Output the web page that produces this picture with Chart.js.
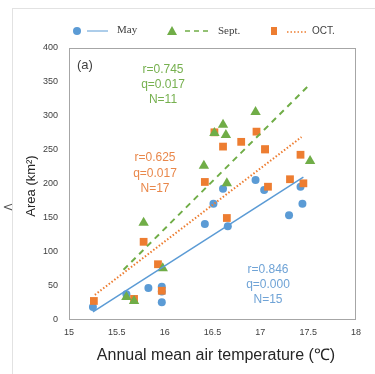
<!DOCTYPE html>
<html lang="en">
<head>
    <meta charset="UTF-8">
    <title>Area vs annual mean air temperature</title>
    <script src="https://cdn.jsdelivr.net/npm/chart.js@4.4.1/dist/chart.umd.min.js"></script>
    <style>
        body { margin: 0; background: #ffffff; }
        .wrap {
            position: relative;
            width: 375px;
            height: 374px;
        }
        .frame {
            position: absolute;
            left: 12px;
            top: 8px;
            right: 0;
            bottom: 0;
            border-left: 1px solid #e2e2e2;
            border-top: 1px solid #e2e2e2;
        }
        canvas { position: absolute; left: 0; top: 0; }
    </style>
</head>
<body>
<div class="wrap">
    <div class="frame"></div>
    <canvas id="chart" width="375" height="374"></canvas>
</div>
<script>
// tick values
const xTicks = [15, 15.5, 16, 16.5, 17, 17.5, 18];
const yTicks = [0, 50, 100, 150, 200, 250, 300, 350, 400];

// May (blue circles)
const mayTemp = [15.25, 15.60, 15.83, 15.97, 15.97, 15.97, 16.42, 16.66, 16.51, 16.61, 16.95, 17.04, 17.42, 17.44, 17.30];
const mayArea = [19, 38, 47, 49, 26, 42, 141, 138, 171, 193, 206, 191, 196, 171, 154];

// Sept. (green triangles)
const septTemp = [15.60, 15.68, 15.78, 15.98, 16.41, 16.52, 16.61, 16.64, 16.65, 16.95, 17.52];
const septArea = [34, 28, 143, 76, 227, 275, 287, 272, 201, 306, 234];

// OCT. (orange squares)
const octTemp = [15.26, 15.68, 15.78, 15.93, 15.97, 16.42, 16.52, 16.61, 16.80, 16.96, 17.05, 16.65, 17.08, 17.42, 17.31, 17.45, 17.05];
const octArea = [28, 31, 115, 82, 43, 203, 276, 255, 262, 277, 251, 150, 196, 243, 207, 201, 251];

// fitted trend lines (end points)
const mayFitTemp = [15.25, 17.45];
const mayFitArea = [12, 210];
const septFitTemp = [15.57, 17.50];
const septFitArea = [74, 344];
const octFitTemp = [15.27, 17.43];
const octFitArea = [37, 269];

const BLUE = '#5b9bd5';
const GREEN = '#70ad47';
const ORANGE = '#ed7d31';

function pts(xs, ys) {
    return xs.map((x, i) => ({ x: x, y: ys[i] }));
}

const extras = {
    id: 'extras',
    afterDraw(chart) {
        const ctx = chart.ctx;
        const a = chart.chartArea;
        ctx.save();

        // plot frame
        ctx.strokeStyle = '#a6a6a6';
        ctx.lineWidth = 1;
        ctx.strokeRect(a.left + 0.5, a.top + 0.5, a.right - a.left - 1, a.bottom - a.top - 1);

        // panel label
        ctx.fillStyle = '#404040';
        ctx.font = '13px "Liberation Sans", sans-serif';
        ctx.textAlign = 'left';
        ctx.textBaseline = 'middle';
        ctx.fillText('(a)', 77, 65);

        // stats
        ctx.textAlign = 'center';
        ctx.font = '12px "Liberation Sans", sans-serif';
        ctx.fillStyle = '#76b04f';
        ['r=0.745', 'q=0.017', 'N=11'].forEach((t, i) => ctx.fillText(t, 163, 70 + i * 15));
        ctx.fillStyle = '#e9874a';
        ['r=0.625', 'q=0.017', 'N=17'].forEach((t, i) => ctx.fillText(t, 155, 158 + i * 15.5));
        ctx.fillStyle = '#6fa3d6';
        ['r=0.846', 'q=0.000', 'N=15'].forEach((t, i) => ctx.fillText(t, 268, 270 + i * 15));

        // axis titles
        ctx.fillStyle = '#262626';
        ctx.font = '16px "Liberation Sans", sans-serif';
        ctx.fillText('Annual mean air temperature (\u2103)', 216, 356);
        ctx.save();
        ctx.translate(31, 186);
        ctx.rotate(-Math.PI / 2);
        ctx.font = '13px "Liberation Sans", sans-serif';
        ctx.fillText('Area (km\u00b2)', 0, 0);
        ctx.restore();

        // stray mark on the left edge
        ctx.fillStyle = '#555555';
        ctx.font = '13px "DejaVu Sans", sans-serif';
        ctx.fillText('<', 8, 208);

        // legend
        const ly = 31;
        ctx.font = '11px "Liberation Serif", serif';
        ctx.textAlign = 'left';

        ctx.fillStyle = BLUE;
        ctx.beginPath();
        ctx.arc(77, ly, 4, 0, Math.PI * 2);
        ctx.fill();
        ctx.strokeStyle = BLUE;
        ctx.lineWidth = 1;
        ctx.beginPath();
        ctx.moveTo(87, ly); ctx.lineTo(108, ly);
        ctx.stroke();
        ctx.fillStyle = '#404040';
        ctx.fillText('May', 117, ly - 1);

        ctx.fillStyle = GREEN;
        ctx.beginPath();
        ctx.moveTo(172, ly - 5); ctx.lineTo(177, ly + 4); ctx.lineTo(167, ly + 4);
        ctx.closePath();
        ctx.fill();
        ctx.strokeStyle = GREEN;
        ctx.lineWidth = 1.5;
        ctx.setLineDash([5, 4]);
        ctx.beginPath();
        ctx.moveTo(185, ly); ctx.lineTo(212, ly);
        ctx.stroke();
        ctx.setLineDash([]);
        ctx.fillStyle = '#404040';
        ctx.fillText('Sept.', 218, ly);

        ctx.fillStyle = ORANGE;
        ctx.fillRect(271, ly - 4, 6, 8);
        ctx.strokeStyle = ORANGE;
        ctx.lineWidth = 1.5;
        ctx.setLineDash([1.5, 2]);
        ctx.beginPath();
        ctx.moveTo(287, ly + 1); ctx.lineTo(308, ly + 1);
        ctx.stroke();
        ctx.setLineDash([]);
        ctx.fillStyle = '#404040';
        ctx.font = '10px "Liberation Sans", sans-serif';
        ctx.fillText('OCT.', 312, ly);

        ctx.restore();
    }
};

new Chart(document.getElementById('chart'), {
    type: 'scatter',
    data: {
        datasets: [
            {
                label: 'Sept. fit',
                data: pts(septFitTemp, septFitArea),
                showLine: true,
                borderColor: GREEN,
                borderWidth: 2,
                borderDash: [6, 5],
                pointRadius: 0
            },
            {
                label: 'OCT. fit',
                data: pts(octFitTemp, octFitArea),
                showLine: true,
                borderColor: ORANGE,
                borderWidth: 2,
                borderDash: [1.5, 2],
                pointRadius: 0
            },
            {
                label: 'May fit',
                data: pts(mayFitTemp, mayFitArea),
                showLine: true,
                borderColor: BLUE,
                borderWidth: 1.5,
                pointRadius: 0
            },
            {
                label: 'Sept.',
                data: pts(septTemp, septArea),
                pointStyle: 'triangle',
                pointRadius: 6,
                backgroundColor: GREEN,
                borderColor: GREEN,
                borderWidth: 0
            },
            {
                label: 'OCT.',
                data: pts(octTemp, octArea),
                pointStyle: 'rect',
                pointRadius: 5.5,
                backgroundColor: ORANGE,
                borderColor: ORANGE,
                borderWidth: 0
            },
            {
                label: 'May',
                data: pts(mayTemp, mayArea),
                pointStyle: 'circle',
                pointRadius: 4,
                backgroundColor: BLUE,
                borderColor: BLUE,
                borderWidth: 0
            }
        ]
    },
    options: {
        responsive: false,
        animation: false,
        layout: { padding: { top: 48, right: 19, bottom: 0, left: 0 } },
        plugins: {
            legend: { display: false },
            tooltip: { enabled: false }
        },
        scales: {
            x: {
                type: 'linear',
                min: xTicks[0],
                max: xTicks[xTicks.length - 1],
                afterBuildTicks: s => { s.ticks = xTicks.map(v => ({ value: v })); },
                afterFit: s => { s.height = 54; },
                grid: { display: false, drawTicks: false },
                border: { display: false },
                ticks: {
                    padding: 7,
                    color: '#404040',
                    font: { size: 9, family: '"Liberation Sans", sans-serif' },
                    callback: v => String(v)
                }
            },
            y: {
                type: 'linear',
                min: yTicks[0],
                max: yTicks[yTicks.length - 1],
                afterBuildTicks: s => { s.ticks = yTicks.map(v => ({ value: v })); },
                afterFit: s => { s.width = 69; },
                grid: { display: false, drawTicks: false },
                border: { display: false },
                ticks: {
                    padding: 11,
                    color: '#404040',
                    font: { size: 9, family: '"Liberation Sans", sans-serif' },
                    callback: v => String(v)
                }
            }
        }
    },
    plugins: [extras]
});
</script>
</body>
</html>
